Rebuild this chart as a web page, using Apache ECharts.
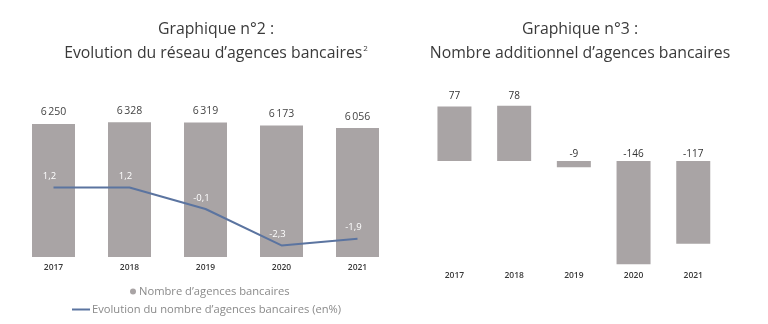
<!DOCTYPE html>
<html><head><meta charset="utf-8">
<script src="https://cdn.jsdelivr.net/npm/echarts@6/dist/echarts.min.js"></script>
<style>html,body{margin:0;padding:0;background:#fff}#c{width:768px;height:324px}</style>
</head><body><div id="c"></div>
<script>
const years = ['2017','2018','2019','2020','2021'];
const agences = [6250, 6328, 6319, 6173, 6056];
const evolution = [1.2, 1.2, -0.1, -2.3, -1.9];
const additionnel = [77, 78, -9, -146, -117];

const FONT = '"Open Sans", sans-serif';
const BAR = '#a9a4a5';
const LINE = '#5b74a0';
const fmtThousands = v => String(v).replace(/\B(?=(\d{3})+(?!\d))/g, '\u202f');
const fmtDec = v => String(v).replace('.', ',');

const titleStyle = {fontFamily: FONT, fontSize: 15.8, fontWeight: 'normal', color: '#3a3a3a', lineHeight: 24,
  rich: {sup: {fontFamily: FONT, fontSize: 8, color: '#3a3a3a', padding: [0,0,9,1]}}};
const xLabel = {fontSize: 8.5, fontWeight: 600, color: '#3a3a3a', fontFamily: FONT};

const chart = echarts.init(document.getElementById('c'), null, {renderer:'canvas'});
chart.setOption({
  animation: false,
  textStyle: {fontFamily: FONT},
  title: [
    {text: 'Graphique n°2 :\nEvolution du réseau d’agences bancaires{sup|2}', left: 211, top: 12, textAlign: 'center', textStyle: titleStyle},
    {text: 'Graphique n°3 :\nNombre additionnel d’agences bancaires', left: 575, top: 12, textAlign: 'center', textStyle: titleStyle}
  ],
  legend: [
    {data: [{name: 'Nombre d’agences bancaires', icon: 'circle'}], left: 125, top: 281, itemWidth: 6, itemHeight: 6, itemGap: 4,
     textStyle: {fontFamily: FONT, fontSize: 11.2, color: '#8a8a8a', padding: [0,0,0,-2]}},
    {data: [{name: 'Evolution du nombre d’agences bancaires (en%)', icon: 'rect'}], left: 67, top: 299, itemWidth: 18, itemHeight: 2, itemGap: 4,
     textStyle: {fontFamily: FONT, fontSize: 11.2, color: '#8a8a8a', padding: [0,0,0,-3]}}
  ],
  grid: [
    {left: 15.5, width: 380, top: 108, height: 149},
    {left: 424.6, width: 298.5, top: 90.3, height: 176.7}
  ],
  xAxis: [
    {type: 'category', data: years, gridIndex: 0, axisLine: {show: false}, axisTick: {show: false},
     axisLabel: Object.assign({margin: 6}, xLabel)},
    {type: 'category', data: years, gridIndex: 1, position: 'bottom', axisLine: {show: false, onZero: false}, axisTick: {show: false},
     axisLabel: Object.assign({margin: 4}, xLabel)}
  ],
  yAxis: [
    {type: 'value', gridIndex: 0, min: 0, max: 7000, show: false},
    {type: 'value', gridIndex: 0, min: -3, max: 6, show: false},
    {type: 'value', gridIndex: 1, min: -150, max: 100, show: false}
  ],
  series: [
    {name: 'Nombre d’agences bancaires', type: 'bar', xAxisIndex: 0, yAxisIndex: 0, data: agences, barWidth: 43,
     itemStyle: {color: BAR},
     label: {show: true, position: 'top', distance: 6, fontSize: 10.5, color: '#444', fontFamily: FONT,
             formatter: p => fmtThousands(p.value)}},
    {name: 'Evolution du nombre d’agences bancaires (en%)', type: 'line', xAxisIndex: 0, yAxisIndex: 1, data: evolution,
     symbol: 'circle', symbolSize: 0.1, showSymbol: true, z: 5,
     lineStyle: {color: LINE, width: 2}, itemStyle: {color: LINE},
     label: {show: true, position: 'top', distance: 6, offset: [-4, 0], fontSize: 9.5, color: '#fff', fontFamily: FONT,
             formatter: p => fmtDec(p.value)}},
    {name: 'Nombre additionnel', type: 'bar', xAxisIndex: 1, yAxisIndex: 2, barWidth: 34,
     data: additionnel.map(v => v < 0 ? {value: v, label: {distance: 2}} : v),
     itemStyle: {color: BAR},
     label: {show: true, position: 'top', distance: 5, fontSize: 10, color: '#333', fontFamily: FONT}}
  ]
});
</script></body></html>
